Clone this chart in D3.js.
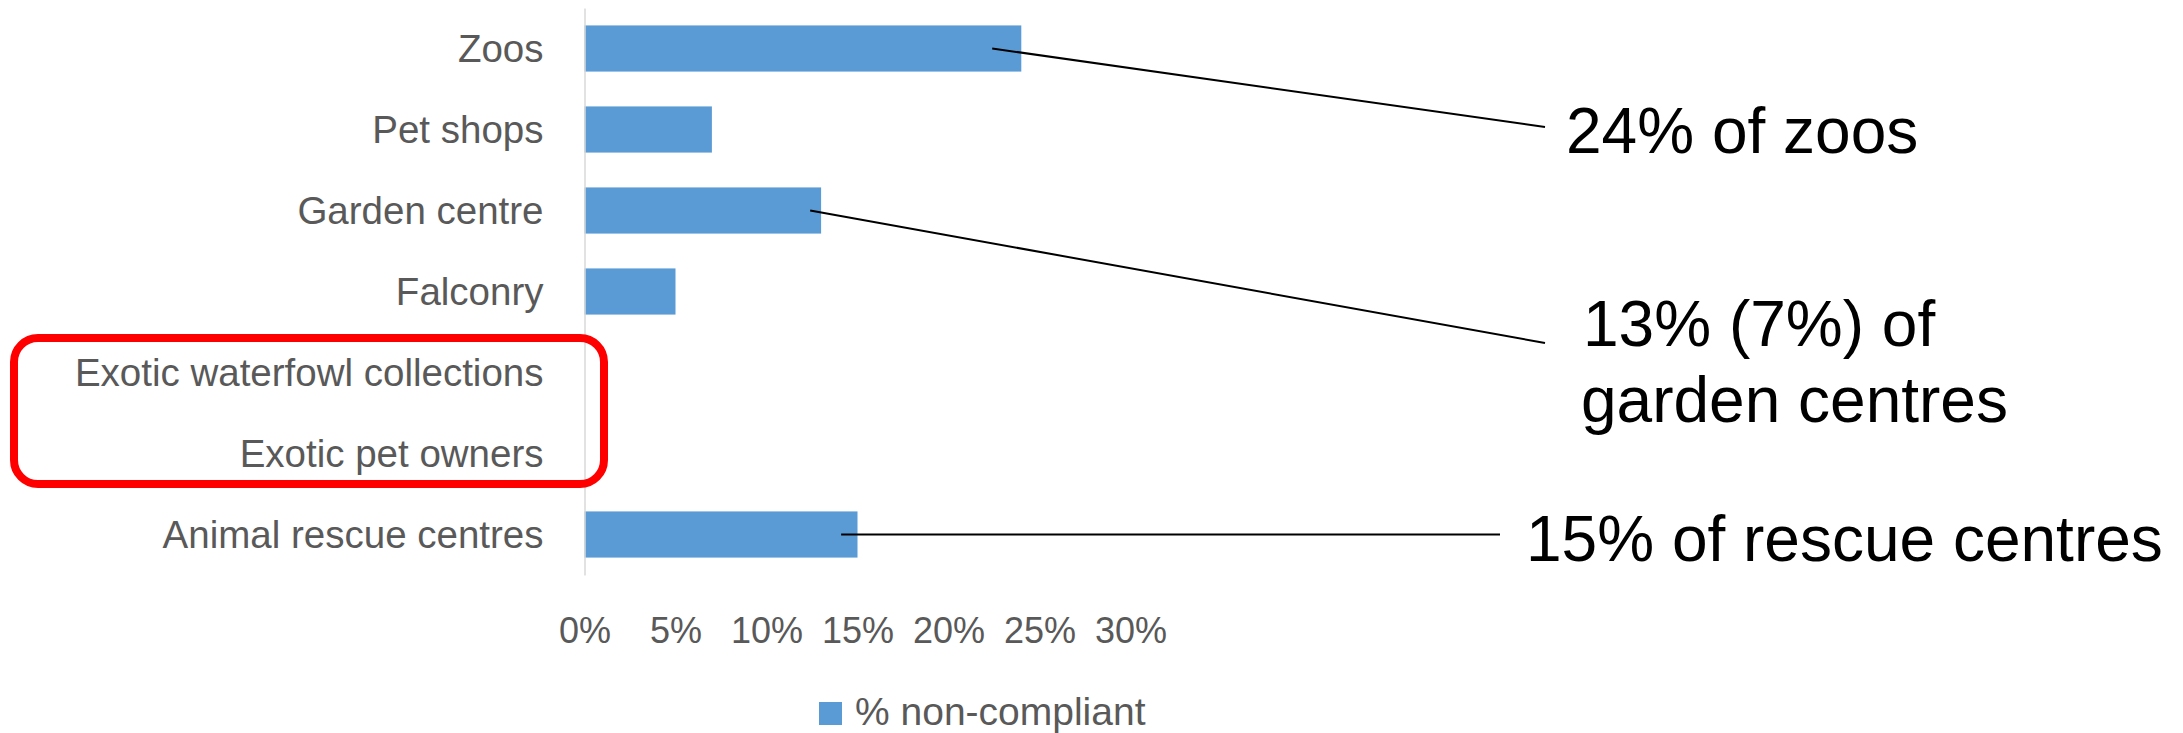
<!DOCTYPE html>
<html>
<head>
<meta charset="utf-8">
<script src="https://cdn.jsdelivr.net/npm/d3@7/dist/d3.min.js"></script>
<style>
  html, body { margin: 0; padding: 0; background: #fff; }
  svg { display: block; }
</style>
</head>
<body>
<svg id="chart" width="2183" height="733"></svg>
<script>
// ---- data ----
const categories = ["Zoos", "Pet shops", "Garden centre", "Falconry",
  "Exotic waterfowl collections", "Exotic pet owners", "Animal rescue centres"];
const values = [0.24, 0.07, 0.13, 0.05, 0, 0, 0.15];
const tickValues = [0, 0.05, 0.10, 0.15, 0.20, 0.25, 0.30];
const seriesName = "% non-compliant";
// annotation callouts: category, anchor value on bar, text lines
const annoCategories = ["Zoos", "Garden centre", "Animal rescue centres"];
const annoAnchors = [0.224, 0.124, 0.141];
const annoTexts = [["24% of zoos"], ["13% (7%) of", "garden centres"], ["15% of rescue centres"]];
const highlighted = ["Exotic waterfowl collections", "Exotic pet owners"];

// ---- layout ----
const svg = d3.select("#chart");
const barColor = "#5b9bd5";
const textColor = "#595959";
const font = "'Liberation Sans', Arial, sans-serif";

const x = d3.scaleLinear().domain([0, 0.30]).range([584.5, 1130.5]);
const y = d3.scaleBand().domain(categories).range([8, 575])
  .paddingInner(0.43).paddingOuter(0.215);

// bars
svg.append("g").selectAll("rect")
  .data(categories.map((c, i) => ({c, v: values[i]})))
  .join("rect")
  .attr("x", x(0))
  .attr("y", d => y(d.c))
  .attr("width", d => x(d.v) - x(0))
  .attr("height", y.bandwidth())
  .attr("fill", barColor);

// y axis
const yAxis = svg.append("g")
  .attr("transform", `translate(${x(0)},0)`)
  .call(d3.axisLeft(y).tickSize(0).tickSizeOuter(0).tickPadding(41));
yAxis.select(".domain").attr("stroke", "#d9d9d9").attr("stroke-width", 1.5);
yAxis.selectAll("text")
  .attr("fill", textColor)
  .attr("font-family", font)
  .attr("font-size", 38.5)
  .attr("dy", "0.35em");

// x axis (labels only)
const xAxis = svg.append("g")
  .call(d3.axisBottom(x).tickValues(tickValues).tickFormat(d3.format(".0%"))
    .tickSize(0).tickSizeOuter(0).tickPadding(0));
xAxis.select(".domain").remove();
xAxis.selectAll("text")
  .attr("y", 643)
  .attr("dy", 0)
  .attr("fill", textColor)
  .attr("font-family", font)
  .attr("font-size", 36);

// legend
const legend = svg.append("g").attr("transform", "translate(819,702)");
legend.append("rect").attr("width", 23).attr("height", 23).attr("fill", barColor);
legend.append("text").attr("x", 36).attr("y", 23)
  .attr("fill", textColor).attr("font-family", font).attr("font-size", 39)
  .text(seriesName);

// highlight box around empty categories
const hTop = y(highlighted[0]) - (y.step() - y.bandwidth()) / 2;
const hBot = y(highlighted[highlighted.length - 1]) + y.bandwidth() + (y.step() - y.bandwidth()) / 2;
svg.append("rect")
  .attr("x", 14).attr("y", hTop + 6)
  .attr("width", 604 - 14).attr("height", (hBot - 10) - (hTop + 6))
  .attr("rx", 24).attr("ry", 24)
  .attr("fill", "none").attr("stroke", "#ff0000").attr("stroke-width", 8);

// callouts
const labelPos = [
  {lx: 1545, ly: 127, tx: 1566, ty: 153},
  {lx: 1545, ly: 343, tx: 1583, ty: 346},
  {lx: 1500, ly: null, tx: 1526, ty: 561}
];
annoCategories.forEach((c, i) => {
  const x0 = x(annoAnchors[i]);
  const y0 = y(c) + y.bandwidth() / 2;
  const p = labelPos[i];
  svg.append("line")
    .attr("x1", x0).attr("y1", y0)
    .attr("x2", p.lx).attr("y2", p.ly === null ? y0 : p.ly)
    .attr("stroke", "#000").attr("stroke-width", 2);
  const t = svg.append("text")
    .attr("x", p.tx).attr("y", p.ty)
    .attr("fill", "#000").attr("font-family", font).attr("font-size", 64);
  annoTexts[i].forEach((line, j) => {
    t.append("tspan").attr("x", p.tx - (j > 0 ? 2 : 0)).attr("dy", j === 0 ? 0 : 76).text(line);
  });
});
</script>
</body>
</html>
